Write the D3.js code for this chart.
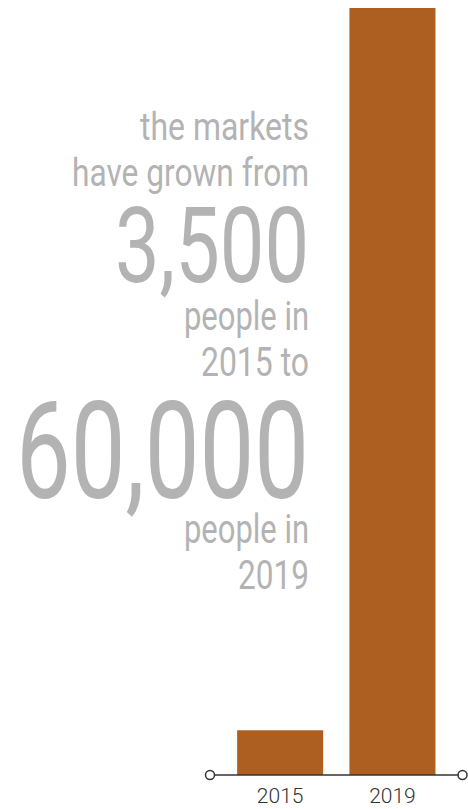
<!DOCTYPE html>
<html>
<head>
<meta charset="utf-8">
<script src="https://cdn.jsdelivr.net/npm/d3@7"></script>
<style>
  body { margin: 0; background: #fff; }
  svg { display: block; }
  .blurb { font-family: Roboto, "Noto Sans", sans-serif; font-weight: 400; fill: #b3b3b3; }
  .tick text { font-family: "Helvetica Neue", Roboto, sans-serif; font-weight: 300; font-size: 21px; fill: #333; }
</style>
</head>
<body>
<svg id="chart" width="468" height="809"></svg>
<script>
var years = ['2015', '2019'];
var people = [3500, 60000];

// blurb lines: text, font size, baseline, target width
var blurbText = ['the markets', 'have grown from', '3,500', 'people in', '2015 to', '60,000', 'people in', '2019'];
var blurbSize = [38, 38, 106, 40, 40, 136, 40, 40];
var blurbBase = [140, 186, 282, 330, 376, 498, 543, 589];
var blurbWidth = [169, 237, 194, 125, 108, 293, 125, 71];

var width = 468, height = 809;
var axisY = 775;
var blurbRight = 309;

var svg = d3.select('#chart');

var x = d3.scaleBand()
    .domain(years)
    .range([224, 448.6])
    .paddingInner(0.234)
    .paddingOuter(0.117);

var y = d3.scaleLinear()
    .domain([0, 60000])
    .range([axisY, 8]);

svg.append('g')
    .selectAll('rect')
    .data(years)
    .enter()
    .append('rect')
    .attr('x', d => x(d))
    .attr('y', (d, i) => y(people[i]))
    .attr('width', x.bandwidth())
    .attr('height', (d, i) => axisY - y(people[i]))
    .attr('fill', '#ad5e21');

// axis: own baseline with open circles at the ends
var axisG = svg.append('g')
    .attr('transform', `translate(0, ${axisY})`)
    .call(d3.axisBottom(x).tickSize(0).tickPadding(13));
axisG.select('.domain').remove();

axisG.append('line')
    .attr('x1', 210)
    .attr('x2', 462.5)
    .attr('stroke', '#333')
    .attr('stroke-width', 1.5);

axisG.selectAll('circle.end')
    .data([210, 462.5])
    .enter()
    .append('circle')
    .attr('class', 'end')
    .attr('cx', d => d)
    .attr('r', 4.5)
    .attr('fill', '#fff')
    .attr('stroke', '#333')
    .attr('stroke-width', 1.5);

svg.append('g')
    .selectAll('text')
    .data(blurbText)
    .enter()
    .append('text')
    .attr('class', 'blurb')
    .attr('x', blurbRight)
    .attr('y', (d, i) => blurbBase[i])
    .attr('text-anchor', 'end')
    .attr('font-size', (d, i) => blurbSize[i])
    .attr('textLength', (d, i) => blurbWidth[i])
    .attr('lengthAdjust', 'spacingAndGlyphs')
    .text(d => d);
</script>
</body>
</html>
